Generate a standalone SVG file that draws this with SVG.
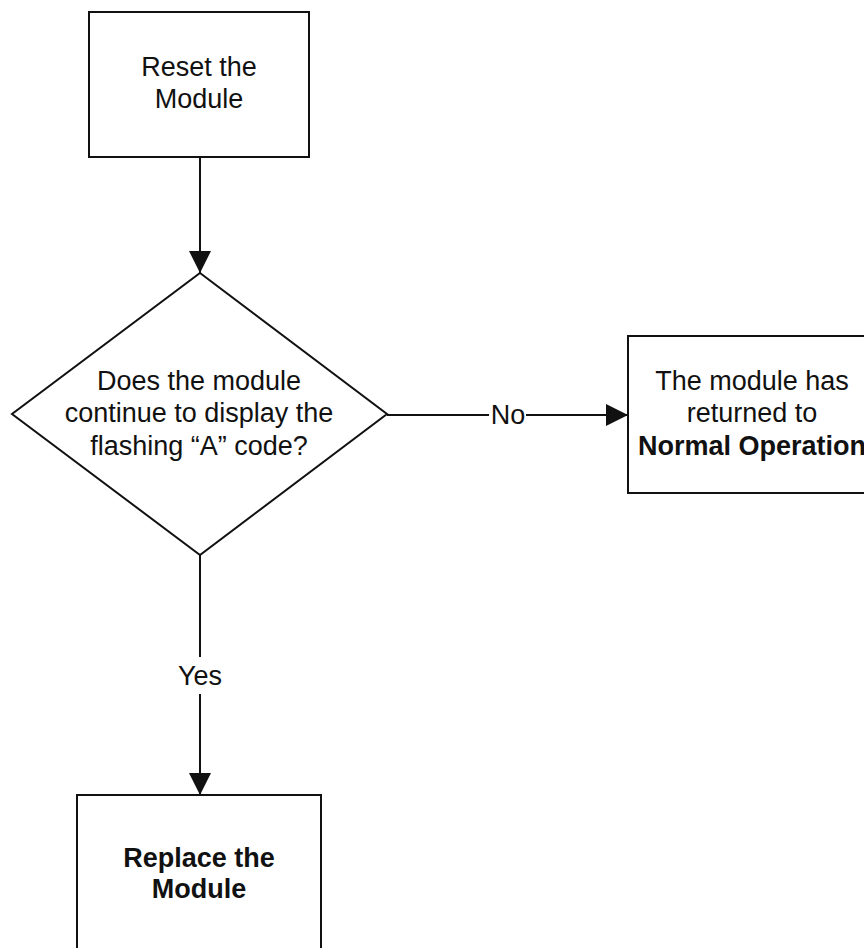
<svg xmlns="http://www.w3.org/2000/svg" width="864" height="948" viewBox="0 0 864 948">
<defs>
<style>
.shape{fill:#fff;stroke:#111;stroke-width:2}
.line{fill:none;stroke:#111;stroke-width:2}
text{font-family:"Liberation Sans",Arial,sans-serif;font-size:27px;fill:#111;text-anchor:middle}
.b{font-weight:bold}
</style>
<marker id="arr" markerUnits="userSpaceOnUse" markerWidth="22" markerHeight="22" viewBox="0 0 20 20" refX="20" refY="10" orient="auto">
<path d="M0,0 L20,10 L0,20 Z" fill="#111"/>
</marker>
</defs>
<rect width="864" height="948" fill="#fff"/>
<g id="connectors">
<line class="line" x1="200" y1="157" x2="200" y2="273" marker-end="url(#arr)"/>
<line class="line" x1="387" y1="415" x2="489" y2="415"/>
<line class="line" x1="526" y1="415" x2="628" y2="415" marker-end="url(#arr)"/>
<text x="508" y="424">No</text>
<line class="line" x1="200" y1="555" x2="200" y2="657"/>
<line class="line" x1="200" y1="694" x2="200" y2="795" marker-end="url(#arr)"/>
<text x="200" y="685">Yes</text>
</g>
<g id="reset">
<rect class="shape" x="89" y="12" width="220" height="145"/>
<text x="199" y="76">Reset the</text>
<text x="199" y="108">Module</text>
</g>
<g id="decision">
<polygon class="shape" points="200,273 387,414 200,555 12,414"/>
<text x="199" y="390">Does the module</text>
<text x="199" y="422">continue to display the</text>
<text x="199" y="455">flashing “A” code?</text>
</g>
<g id="normal">
<rect class="shape" x="628" y="336" width="248" height="157"/>
<text x="752" y="390">The module has</text>
<text x="752" y="422">returned to</text>
<text class="b" x="752" y="455">Normal Operation</text>
</g>
<g id="replace">
<rect class="shape" x="77" y="795" width="244" height="170"/>
<text class="b" x="199" y="867">Replace the</text>
<text class="b" x="199" y="898">Module</text>
</g>
</svg>
